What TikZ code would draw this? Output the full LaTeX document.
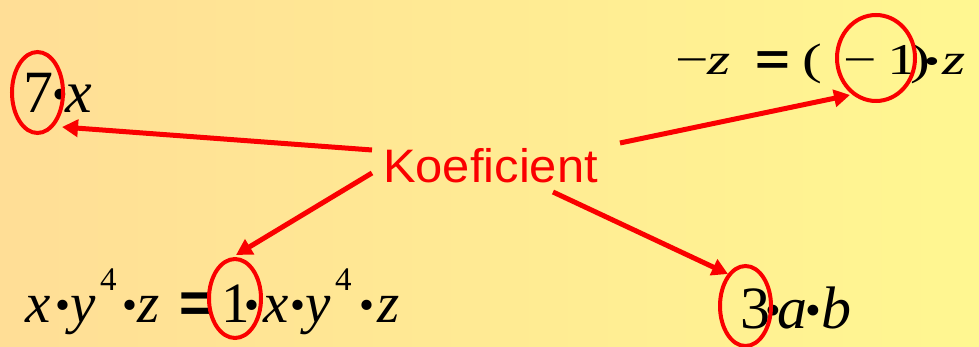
\documentclass[tikz,border=0pt]{standalone}
\usepackage{fontspec}
\usetikzlibrary{arrows.meta,shapes.geometric}
\newfontfamily\tnr{Liberation Serif}
\newfontfamily\ars{Liberation Sans}
\newcommand\bdot{\raisebox{0.05em}{\scalebox{0.75}{•}}}
\newcommand\eqs{{\ars\bfseries =}}
\newcommand\gl[2]{\rlap{\hspace*{#1pt}#2}}
\newcommand\glx[2]{\rlap{\hspace*{#1pt}\scalebox{1.35}[1]{#2}}}
\newcommand\supf{\raisebox{32pt}{\fontsize{33}{33}\selectfont 4}}
\definecolor{bgL}{RGB}{255,222,150}
\definecolor{bgR}{RGB}{255,247,145}
\definecolor{myred}{RGB}{250,0,0}
\begin{document}
\begin{tikzpicture}[x=1pt,y=-1pt,
  ell/.style={draw=myred, line width=4pt, ellipse, inner sep=0pt},
  arr/.style={draw=myred, line width=5pt, -{Triangle[length=16pt,width=17pt]}},
  frm/.style={anchor=base west, inner sep=0pt, text=black}]
\shade[left color=bgL, right color=bgR] (0,0) rectangle (979,347);
\useasboundingbox (0,0) rectangle (979,347);
% formulas
\node[frm] (f7) at (25,113) {\fontsize{60}{60}\selectfont\tnr
  \gl{-2}{7}\gl{27}{\bdot}\gl{40}{\textit{x}}\hspace*{67pt}};
\node[frm] (fz) at (677,75) {\fontsize{44}{44}\selectfont\tnr
  \glx{-2}{−}\glx{30}{\textit{z}}\glx{78}{\eqs}\glx{125}{(}\glx{166}{−}\glx{210}{1}\glx{233}{)}\glx{247}{\bdot}\glx{265}{\textit{z}}\hspace*{293pt}};
\node[frm] (fxy) at (25,322) {\fontsize{57}{57}\selectfont\tnr
  \gl{0}{\textit{x}}\gl{30}{\bdot}\gl{45}{\textit{y}}\gl{75}{\supf}\gl{97}{\bdot}\gl{112}{\textit{z}}%
  \gl{154}{\eqs}\gl{196}{1}\gl{219}{\bdot}\gl{238}{\textit{x}}\gl{265}{\bdot}\gl{280}{\textit{y}}\gl{310}{\supf}\gl{334}{\bdot}\gl{352}{\textit{z}}\hspace*{373pt}};
\node[frm] (f3) at (742,328) {\fontsize{60}{60}\selectfont\tnr
  \gl{-2}{3}\gl{23}{\bdot}\gl{35}{\textit{a}}\gl{63}{\bdot}\gl{79}{\textit{b}}\hspace*{106pt}};
% label
\node[anchor=base west, inner sep=0pt, text=myred] (koef) at (383,183) {\scalebox{1.04}[1]{\fontsize{47}{47}\selectfont\ars Koeficient}};
% ellipses
\node[ell, minimum width=51pt, minimum height=81pt] (e7) at (37.5,92.5) {};
\node[ell, minimum width=78pt, minimum height=86pt] (e1) at (876,58) {};
\node[ell, minimum width=52pt, minimum height=79pt] (eb) at (235,298.5) {};
\node[ell, minimum width=51pt, minimum height=80pt] (e3) at (745.5,306) {};
% arrow ends
\coordinate (s7) at (372,150);
\coordinate (t7) at (62,127);
\coordinate (sz) at (620,143);
\coordinate (tz) at (850,95);
\coordinate (sb) at (372,173);
\coordinate (tb) at (236,255);
\coordinate (s3) at (553,192);
\coordinate (t3) at (728,274);
\draw[arr] (s7) -- (t7);
\draw[arr] (sz) -- (tz);
\draw[arr] (sb) -- (tb);
\draw[arr] (s3) -- (t3);
\end{tikzpicture}
\end{document}
